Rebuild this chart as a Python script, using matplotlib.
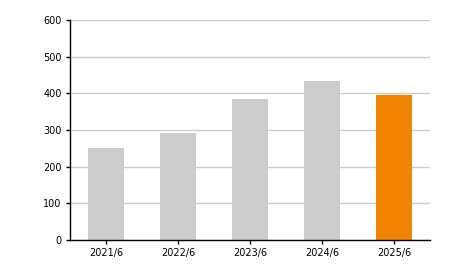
import numpy as np
import matplotlib
matplotlib.use("Agg")
import matplotlib.pyplot as plt

categories = ["2021/6", "2022/6", "2023/6", "2024/6", "2025/6"]
values = [252, 291, 385, 434, 395]
colors = ["#cccccc", "#cccccc", "#cccccc", "#cccccc", "#f08300"]
y_ticks = [0, 100, 200, 300, 400, 500, 600]

fig = plt.figure(figsize=(4.5, 2.7), dpi=100)
ax = fig.add_axes([70 / 450, 1 - 240 / 270, 360 / 450, 220 / 270])

x = np.arange(len(categories))
ax.bar(x, values, width=0.5, color=colors, zorder=2)

ax.set_xlim(-0.5, len(categories) - 0.5)
ax.set_ylim(0, 600)
ax.set_yticks(y_ticks)
ax.set_xticks(x)
ax.set_xticklabels(categories)
ax.yaxis.grid(True, color="#cccccc", linewidth=1)
ax.set_axisbelow(True)

for side in ["top", "right"]:
    ax.spines[side].set_visible(False)
for side in ["left", "bottom"]:
    ax.spines[side].set_color("black")
    ax.spines[side].set_linewidth(1)

ax.tick_params(axis="both", labelsize=7, length=3, width=1, color="black", pad=3)

fig.savefig("out.png", dpi=100)
